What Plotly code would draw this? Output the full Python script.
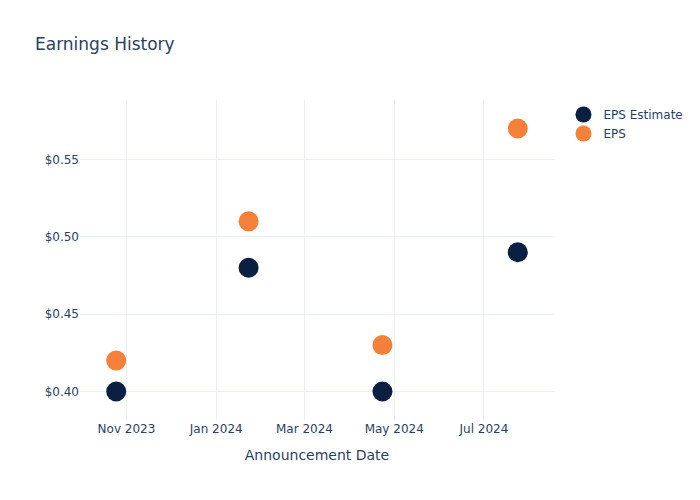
import plotly.graph_objects as go

dates = ["2023-10-25", "2024-01-23", "2024-04-23", "2024-07-24"]
eps_estimate = [0.40, 0.48, 0.40, 0.49]
eps_actual = [0.42, 0.51, 0.43, 0.57]

fig = go.Figure()
fig.add_trace(go.Scatter(x=dates, y=eps_estimate, mode="markers", name="EPS Estimate",
                         marker=dict(size=20, color="#0b1f42")))
fig.add_trace(go.Scatter(x=dates, y=eps_actual, mode="markers", name="EPS",
                         marker=dict(size=20, color="#f5803a")))
fig.update_layout(
    template="plotly_white",
    width=700, height=500,
    font=dict(family="DejaVu Sans"),
    title=dict(text="Earnings History"),
    xaxis=dict(title=dict(text="Announcement Date")),
    yaxis=dict(tickformat="$.2f"),
)
fig.write_html("out.html")
